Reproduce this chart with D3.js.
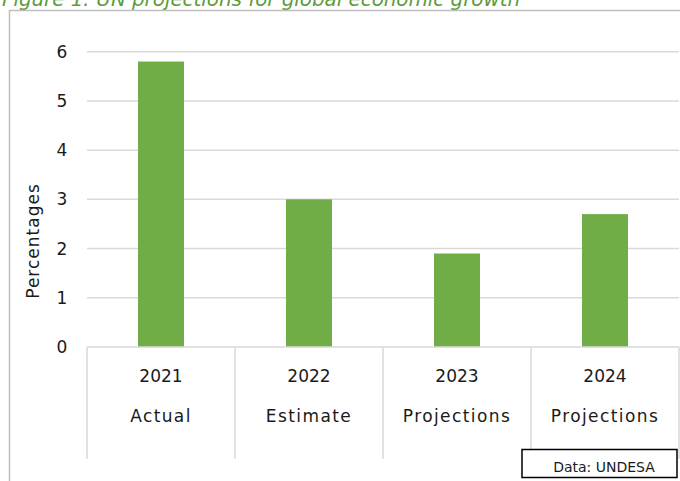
<!DOCTYPE html>
<html>
<head>
<meta charset="utf-8">
<script src="https://cdn.jsdelivr.net/npm/d3@7"></script>
<style>
  body { margin: 0; background: #fff; }
  text { font-family: "DejaVu Sans", sans-serif; fill: #1a1a1a; }
</style>
</head>
<body>
<div id="chart"></div>
<script>
var years = ["2021", "2022", "2023", "2024"];
var kinds = ["Actual", "Estimate", "Projections", "Projections"];
var growth = [5.8, 3.0, 1.9, 2.7];
var yTicks = [0, 1, 2, 3, 4, 5, 6];

var width = 680, height = 481;
var svg = d3.select("#chart").append("svg")
    .attr("width", width)
    .attr("height", height);

// title, cut off at the top like the source
svg.append("text")
    .attr("x", 2)
    .attr("y", 6)
    .attr("textLength", 518)
    .attr("lengthAdjust", "spacingAndGlyphs")
    .style("font-style", "italic")
    .style("font-size", "20px")
    .style("fill", "#5b9b3a")
    .text("Figure 1: UN projections for global economic growth");

// outer frame
svg.append("rect")
    .attr("x", 9.5).attr("y", 10.5)
    .attr("width", 700).attr("height", 500)
    .attr("fill", "none")
    .attr("stroke", "#bfbfbf")
    .attr("stroke-width", 1.5);

var x = d3.scaleBand().domain(years).range([87, 679]);
var y = d3.scaleLinear().domain([0, 6]).range([347, 51.7]);

// gridlines
svg.append("g").selectAll("line")
    .data(yTicks.filter(function(d) { return d > 0; }))
    .enter().append("line")
    .attr("x1", 87).attr("x2", 679)
    .attr("y1", function(d) { return y(d); })
    .attr("y2", function(d) { return y(d); })
    .attr("stroke", "#d9d9d9")
    .attr("stroke-width", 1.5);

// y tick labels
svg.append("g").selectAll("text")
    .data(yTicks)
    .enter().append("text")
    .attr("x", 62)
    .attr("y", function(d) { return y(d); })
    .attr("dy", "0.35em")
    .attr("text-anchor", "middle")
    .style("font-size", "17px")
    .text(function(d) { return d; });

// y axis title
svg.append("text")
    .attr("transform", "translate(39,241) rotate(-90)")
    .attr("text-anchor", "middle")
    .style("font-size", "17px")
    .style("letter-spacing", "1px")
    .text("Percentages");

// bars
var barW = 46;
svg.append("g").selectAll("rect")
    .data(growth)
    .enter().append("rect")
    .attr("x", function(d, i) { return x(years[i]) + x.bandwidth() / 2 - barW / 2; })
    .attr("y", function(d) { return y(d); })
    .attr("width", barW)
    .attr("height", function(d) { return y(0) - y(d); })
    .attr("fill", "#70ad47");

// category axis: base line and separators
svg.append("line")
    .attr("x1", 87).attr("x2", 679)
    .attr("y1", y(0)).attr("y2", y(0))
    .attr("stroke", "#d9d9d9").attr("stroke-width", 1.5);

var edges = years.map(function(d) { return x(d); }).concat([x.range()[1]]);
svg.append("g").selectAll("line")
    .data(edges)
    .enter().append("line")
    .attr("x1", function(d) { return d; })
    .attr("x2", function(d) { return d; })
    .attr("y1", y(0)).attr("y2", 459)
    .attr("stroke", "#d9d9d9").attr("stroke-width", 1.5);

svg.append("g").selectAll("text")
    .data(years)
    .enter().append("text")
    .attr("x", function(d) { return x(d) + x.bandwidth() / 2; })
    .attr("y", 376)
    .attr("dy", "0.35em")
    .attr("text-anchor", "middle")
    .style("font-size", "17px")
    .text(function(d) { return d; });

svg.append("g").selectAll("text")
    .data(kinds)
    .enter().append("text")
    .attr("x", function(d, i) { return x(years[i]) + x.bandwidth() / 2; })
    .attr("y", 416)
    .attr("dy", "0.35em")
    .attr("text-anchor", "middle")
    .style("font-size", "17px")
    .style("letter-spacing", "1.4px")
    .text(function(d) { return d; });

// source box
svg.append("rect")
    .attr("x", 522).attr("y", 449.5)
    .attr("width", 155).attr("height", 28)
    .attr("fill", "#fff")
    .attr("stroke", "#000")
    .attr("stroke-width", 1.5);

svg.append("text")
    .attr("x", 604)
    .attr("y", 472)
    .attr("text-anchor", "middle")
    .style("font-size", "14px")
    .text("Data: UNDESA");
</script>
</body>
</html>
